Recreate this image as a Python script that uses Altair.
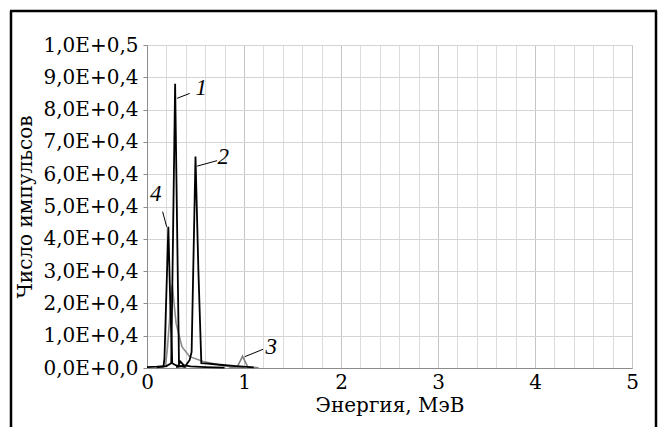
import altair as alt
import pandas as pd

# ---- data ----
s1_x = [0.00, 0.10, 0.20, 0.25, 0.29, 0.33, 0.345, 0.38, 0.45, 0.60, 0.80]
s1_y = [300, 400, 600, 1500, 88000, 1200, 2000, 800, 500, 300, 100]
s2_x = [0.30, 0.40, 0.44, 0.46, 0.50, 0.53, 0.56, 0.60, 0.75, 0.92, 1.10]
s2_y = [300, 800, 2500, 5000, 65500, 30000, 1500, 1400, 1000, 600, 200]
s4_x = [0.10, 0.17, 0.18, 0.22, 0.24, 0.26, 0.30, 0.40]
s4_y = [200, 500, 3000, 43700, 20000, 1500, 800, 300]
s4b_x = [0.15, 0.19, 0.21, 0.26, 0.30, 0.36, 0.44, 0.58, 0.85, 1.00]
s4b_y = [200, 500, 6000, 25700, 13800, 6600, 3500, 2000, 400, 200]
s3_x = [0.85, 0.93, 0.985, 1.04, 1.15]
s3_y = [100, 300, 3600, 300, 100]

lab_text = ["1", "2", "3", "4"]
lab_x = [0.56, 0.785, 1.28, 0.09]
lab_y = [86800, 65400, 6500, 53800]
lead_x = [0.31, 0.517, 1.008, 0.161]
lead_y = [83500, 62500, 3500, 48400]
lead_x2 = [0.44, 0.723, 1.197, 0.203]
lead_y2 = [85000, 64200, 5800, 43700]

x_ticks = [round(i * 0.2, 1) for i in range(26)]
y_ticks = [i * 10000 for i in range(11)]

FONT = "Liberation Serif"
AXFONT = "DejaVu Serif"

rows = []
for name, xs, ys in [("1", s1_x, s1_y), ("2", s2_x, s2_y), ("4", s4_x, s4_y),
                     ("4b", s4b_x, s4b_y), ("3", s3_x, s3_y)]:
    for xv, yv in zip(xs, ys):
        rows.append({"series": name, "E": xv, "N": yv})
df = pd.DataFrame(rows)
labels = pd.DataFrame({"t": lab_text, "E": lab_x, "N": lab_y})
leads = pd.DataFrame({"E": lead_x, "N": lead_y, "E2": lead_x2, "N2": lead_y2})

xscale = alt.Scale(domain=[0, 5], nice=False)
yscale = alt.Scale(domain=[0, 100000], nice=False)

xaxis = alt.Axis(
    values=x_ticks, labelExpr="datum.value % 1 == 0 ? format(datum.value, 'd') : ''",
    title="Энергия, МэВ", ticks=False, labelPadding=4, titlePadding=3,
    gridColor={"condition": {"test": "datum.value % 1 == 0", "value": "#c4c4c4"}, "value": "#dcdcdc"},
    domainColor="#8c8c8c", labelFlush=False, labelOverlap=False, labelBound=False,
    labelFont=AXFONT, titleFont=AXFONT, labelFontSize=20, titleFontSize=20,
    labelColor="#000000", titleColor="#000000", titleFontWeight="normal",
)
yaxis = alt.Axis(
    values=y_ticks,
    labelExpr="datum.value == 0 ? '0,0E+0,0' : (datum.value == 100000 ? '1,0E+0,5' : (datum.value/10000) + ',0E+0,4')",
    title="Число импульсов", tickSize=4, tickColor="#8c8c8c", labelPadding=5, titlePadding=8,
    gridColor="#d4d4d4", domainColor="#8c8c8c", labelOverlap=False, labelBound=False,
    labelFont=AXFONT, titleFont=AXFONT, labelFontSize=20, titleFontSize=20,
    labelColor="#000000", titleColor="#000000", titleFontWeight="normal",
)

base = alt.Chart(df)
color = alt.Color("series:N", legend=None,
                  scale=alt.Scale(domain=["1", "2", "3", "4", "4b"],
                                  range=["#000000", "#000000", "#808080", "#000000", "#8a8a8a"]))

gray = base.transform_filter("datum.series == '3' || datum.series == '4b'").mark_line(strokeWidth=1.6).encode(
    x=alt.X("E:Q", scale=xscale, axis=xaxis),
    y=alt.Y("N:Q", scale=yscale, axis=yaxis),
    color=color,
)
black = base.transform_filter("datum.series != '3' && datum.series != '4b'").mark_line(strokeWidth=1.8).encode(
    x=alt.X("E:Q", scale=xscale, axis=xaxis),
    y=alt.Y("N:Q", scale=yscale, axis=yaxis),
    color=color,
)
leader = alt.Chart(leads).mark_rule(color="#000000", strokeWidth=1).encode(
    x=alt.X("E:Q", axis=xaxis), y=alt.Y("N:Q", axis=yaxis), x2="E2:Q", y2="N2:Q")
text = alt.Chart(labels).mark_text(font=FONT, fontSize=23, fontStyle="italic", color="#000000").encode(
    x=alt.X("E:Q", axis=xaxis), y=alt.Y("N:Q", axis=yaxis), text="t:N")

frame_l = alt.Chart().mark_rule(color="#000000", strokeWidth=2.5, clip=False).encode(
    x=alt.value(-136), y=alt.value(-34), y2=alt.value(400))
frame_r = alt.Chart().mark_rule(color="#000000", strokeWidth=2.5, clip=False).encode(
    x=alt.value(509), y=alt.value(-34), y2=alt.value(400))
frame_t = alt.Chart().mark_rule(color="#000000", strokeWidth=2.5, clip=False).encode(
    x=alt.value(-137), x2=alt.value(510), y=alt.value(-34))

chart = alt.layer(gray, black, leader, text, frame_l, frame_r, frame_t).properties(
    width=485, height=323,
    autosize=alt.AutoSizeParams(type="none"),
    padding={"left": 147, "top": 45, "right": 29, "bottom": 59},
    background="#ffffff",
).configure_view(stroke="#d4d4d4").configure_axis(
    labelOverlap=False, labelFont=AXFONT, titleFont=AXFONT, labelFontSize=20, titleFontSize=20,
)

chart.save("out.html", embed_options={"renderer": "svg", "actions": False})
